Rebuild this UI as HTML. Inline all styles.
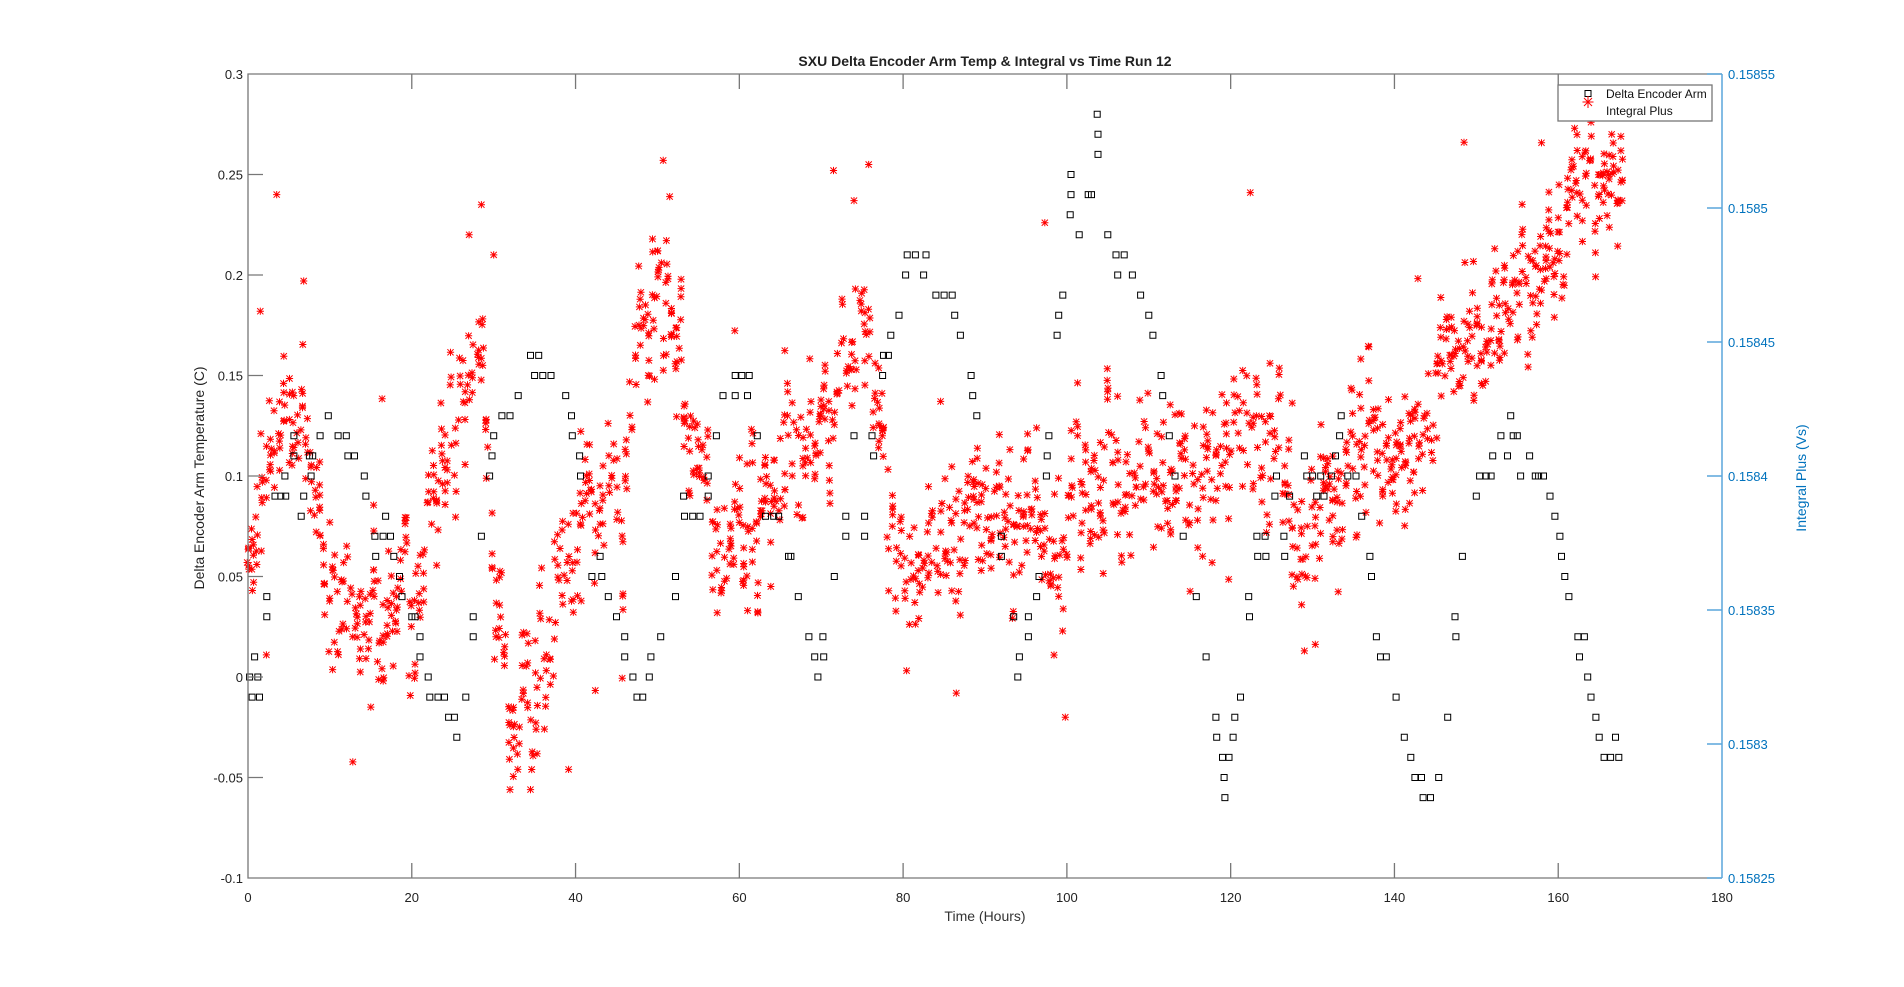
<!DOCTYPE html>
<html><head><meta charset="utf-8"><style>
html,body{margin:0;padding:0;background:#fff;}
svg{display:block;font-family:"Liberation Sans",Arial,sans-serif;}
</style></head><body>
<svg id="s" width="1904" height="987" viewBox="0 0 1904 987" xmlns="http://www.w3.org/2000/svg">
<rect width="1904" height="987" fill="#fff"/>
<g id="data"></g>
<g id="axes"></g>
<text x="985" y="66" text-anchor="middle" font-size="14" font-weight="bold" fill="#222">SXU Delta Encoder Arm Temp &amp; Integral vs Time Run 12</text>
<text x="985" y="921" text-anchor="middle" font-size="14" fill="#333">Time (Hours)</text>
<text transform="translate(204,478) rotate(-90)" text-anchor="middle" font-size="14" fill="#222">Delta Encoder Arm Temperature (C)</text>
<text transform="translate(1806,478) rotate(-90)" text-anchor="middle" font-size="14" fill="#0072BD">Integral Plus (Vs)</text>
<rect x="1558" y="85" width="154" height="36" fill="#fff" stroke="#777" stroke-width="1.3"/>
<rect x="1585" y="90.5" width="6" height="6" fill="none" stroke="#000" stroke-width="1"/>
<path d="M1588 97v12M1582.5 103h11M1584 99l8 8M1592 99l-8 8" stroke="#f00" stroke-width="1" transform="translate(0,-1)"/>
<text x="1606" y="98" font-size="12" fill="#111">Delta Encoder Arm</text>
<text x="1606" y="115" font-size="12" fill="#111">Integral Plus</text>
</svg>
<script>
var L=248,R=1722,T=74,B=878;
function X(t){return L+(R-L)*t/180;}
function Y(v){return B-(B-T)*(v+0.1)/0.4;}
var ns="http://www.w3.org/2000/svg";
var ax=document.getElementById('axes'),dg=document.getElementById('data');
function el(n,a,p,txt){var e=document.createElementNS(ns,n);for(var k in a)e.setAttribute(k,a[k]);if(txt!=null)e.textContent=txt;(p||ax).appendChild(e);return e;}
var d='';
for(var i=0;i<=9;i++){var x=X(i*20);if(i>0&&i<9){d+='M'+x+' '+B+'v-15M'+x+' '+T+'v15';}
el('text',{x:x,y:902,'text-anchor':'middle','font-size':'13',fill:'#222'},null,''+i*20);}
var lv=['-0.1','-0.05','0','0.05','0.1','0.15','0.2','0.25','0.3'];
for(var i=0;i<9;i++){var y=Y(-0.1+i*0.05);if(i>0&&i<8)d+='M'+L+' '+y+'h15';
el('text',{x:L-5,y:y+5,'text-anchor':'end','font-size':'13',fill:'#222'},null,lv[i]);}
el('path',{d:'M'+R+' '+T+'H'+L+'V'+B+'H'+R+d,fill:'none',stroke:'#777','stroke-width':'1.3'});
var rv=['0.15825','0.1583','0.15835','0.1584','0.15845','0.1585','0.15855'];
var bd='M'+R+' '+T+'V'+B;
for(var i=0;i<7;i++){var y=B-(B-T)*i/6;bd+='M'+R+' '+y+'h-15';
el('text',{x:R+6,y:y+5,'font-size':'13',fill:'#0072BD'},null,rv[i]);}
el('path',{d:bd,fill:'none',stroke:'#5aa6dc','stroke-width':'1.5'});
var sq=[[0.2,0],[0.5,-0.01],[0.8,0.01],[1.2,0],[1.4,-0.01],[2.3,0.04],[2.3,0.03],[3.3,0.09],[4,0.09],[4.5,0.1],[4.6,0.09],[5.6,0.12],[5.6,0.11],[6.5,0.08],[6.8,0.09],[7.5,0.11],[7.7,0.1],[7.9,0.11],[8.8,0.12],[9.8,0.13],[11,0.12],[12,0.12],[12.2,0.11],[13,0.11],[14.2,0.1],[14.4,0.09],[15.5,0.07],[15.6,0.06],[16.5,0.07],[16.8,0.08],[17.4,0.07],[17.8,0.06],[18.5,0.05],[18.8,0.04],[20,0.03],[20.4,0.03],[21,0.02],[21,0.01],[22,0],[22.2,-0.01],[23.2,-0.01],[24,-0.01],[24.5,-0.02],[25.2,-0.02],[25.5,-0.03],[26.6,-0.01],[27.5,0.03],[27.5,0.02],[28.5,0.07],[29.5,0.1],[29.8,0.11],[30,0.12],[31,0.13],[32,0.13],[33,0.14],[34.5,0.16],[35.5,0.16],[35,0.15],[36,0.15],[37,0.15],[38.8,0.14],[39.5,0.13],[39.6,0.12],[40.5,0.11],[40.6,0.1],[42,0.05],[43,0.06],[43.2,0.05],[44,0.04],[45,0.03],[46,0.02],[46,0.01],[47,0],[47.5,-0.01],[48.2,-0.01],[49,0],[49.2,0.01],[50.4,0.02],[52.2,0.05],[52.2,0.04],[53.2,0.09],[53.3,0.08],[54.3,0.08],[55.2,0.08],[57.2,0.12],[56.2,0.1],[56.2,0.09],[58,0.14],[59.5,0.15],[60.3,0.15],[61.2,0.15],[59.5,0.14],[61,0.14],[62.2,0.12],[63.2,0.08],[64.2,0.08],[64.8,0.08],[66,0.06],[66.3,0.06],[67.2,0.04],[68.5,0.02],[69.2,0.01],[69.6,0],[70.2,0.02],[70.3,0.01],[71.6,0.05],[73,0.08],[73,0.07],[74,0.12],[75.3,0.08],[75.3,0.07],[76.2,0.12],[76.4,0.11],[77.5,0.15],[77.6,0.16],[78.5,0.17],[78.2,0.16],[79.5,0.18],[80.3,0.2],[80.5,0.21],[81.5,0.21],[82.5,0.2],[82.8,0.21],[84,0.19],[85,0.19],[86,0.19],[86.3,0.18],[87,0.17],[88.3,0.15],[88.5,0.14],[89,0.13],[92,0.07],[92,0.06],[93.5,0.03],[94.2,0.01],[94,0],[95.3,0.03],[95.3,0.02],[96.3,0.04],[96.6,0.05],[97.5,0.1],[97.6,0.11],[97.8,0.12],[98.8,0.17],[99,0.18],[99.5,0.19],[100.4,0.23],[100.5,0.24],[100.5,0.25],[101.5,0.22],[102.6,0.24],[103,0.24],[103.7,0.28],[103.8,0.27],[103.8,0.26],[105,0.22],[106,0.21],[106.2,0.2],[107,0.21],[108,0.2],[109,0.19],[110,0.18],[110.5,0.17],[111.5,0.15],[111.7,0.14],[112.5,0.12],[113.2,0.1],[114.2,0.07],[115.8,0.04],[117,0.01],[118.2,-0.02],[118.3,-0.03],[119,-0.04],[119.2,-0.05],[119.3,-0.06],[120.3,-0.03],[119.8,-0.04],[120.5,-0.02],[121.2,-0.01],[122.2,0.04],[122.3,0.03],[123.2,0.07],[123.3,0.06],[124.2,0.07],[124.3,0.06],[125.4,0.09],[125.6,0.1],[126.5,0.07],[126.6,0.06],[127.2,0.09],[129,0.11],[129.3,0.1],[130.5,0.09],[130,0.1],[131,0.1],[131.4,0.09],[132.3,0.1],[132.8,0.11],[133.3,0.12],[133.5,0.13],[134.3,0.1],[135.3,0.1],[136,0.08],[137,0.06],[137.2,0.05],[137.8,0.02],[138.3,0.01],[139,0.01],[140.2,-0.01],[141.2,-0.03],[142,-0.04],[142.5,-0.05],[143.3,-0.05],[143.5,-0.06],[144.4,-0.06],[145.4,-0.05],[146.5,-0.02],[147.4,0.03],[147.5,0.02],[148.3,0.06],[150,0.09],[150.4,0.1],[151.2,0.1],[151.8,0.1],[152,0.11],[153,0.12],[153.8,0.11],[154.2,0.13],[154.5,0.12],[155,0.12],[155.4,0.1],[156.5,0.11],[157.2,0.1],[157.6,0.1],[158.2,0.1],[159,0.09],[159.6,0.08],[160.2,0.07],[160.4,0.06],[160.8,0.05],[161.3,0.04],[162.4,0.02],[162.6,0.01],[163.2,0.02],[163.6,0],[164,-0.01],[164.6,-0.02],[165,-0.03],[165.6,-0.04],[166.4,-0.04],[167,-0.03],[167.4,-0.04]];
var sd='';
sq.forEach(function(p){var x=X(p[0]),y=Y(p[1]);sd+='M'+(x-3).toFixed(1)+' '+(y-3).toFixed(1)+'h6v6h-6z';});
var tr=[[0,0.07],[2,0.1],[5,0.13],[7,0.13],[8,0.08],[10,0.04],[14,0.03],[18,0.03],[22,0.04],[23,0.11],[26,0.14],[29,0.14],[30,0.05],[32,-0.01],[35,-0.03],[36,0.02],[39,0.06],[41,0.09],[46,0.09],[47,0.16],[50,0.18],[52,0.17],[54,0.12],[56,0.1],[57,0.06],[59,0.06],[61,0.09],[66,0.1],[69,0.12],[73,0.15],[76,0.17],[77,0.12],[79,0.07],[81,0.03],[83,0.06],[88,0.07],[91,0.09],[94,0.08],[96,0.1],[98,0.06],[100,0.05],[101,0.1],[110,0.1],[116,0.09],[118,0.1],[121,0.12],[126,0.11],[128,0.06],[130,0.06],[133,0.09],[136,0.11],[140,0.11],[143,0.12],[146,0.16],[150,0.17],[155,0.19],[158,0.2],[161,0.23],[165,0.25],[168,0.26]];
function trend(t){for(var i=1;i<tr.length;i++)if(t<=tr[i][0]){var a=tr[i-1],b=tr[i];return a[1]+(b[1]-a[1])*(t-a[0])/(b[0]-a[0]);}return tr[tr.length-1][1];}
var seed=12345;function rnd(){seed=(seed*1103515245+12345)&0x7fffffff;return seed/0x7fffffff;}
function gauss(){return Math.sqrt(-2*Math.log(rnd()+1e-9))*Math.cos(2*Math.PI*rnd());}
var st='';
function star(x,y){var r=3.6,a=3.1;st+='M'+x.toFixed(1)+' '+(y-r).toFixed(1)+'v'+(2*r)+'M'+(x-r).toFixed(1)+' '+y.toFixed(1)+'h'+(2*r)+'M'+(x-a).toFixed(1)+' '+(y-a).toFixed(1)+'l'+(2*a)+' '+(2*a)+'M'+(x+a).toFixed(1)+' '+(y-a).toFixed(1)+'l'+(-2*a)+' '+(2*a);}
for(var t=0;t<=168;t+=0.55){var c=trend(t);var n=4+Math.floor(rnd()*4);var cc=c+gauss()*0.012;
for(var k=0;k<n;k++){var v=cc+gauss()*0.015;if(rnd()<0.02)v+=gauss()*0.05;star(X(t+(rnd()-0.5)*0.3),Y(v));}}
var outl=[[3.5,0.24],[6.8,0.197],[1.5,0.182],[27,0.22],[28.5,0.235],[30,0.21],[50.7,0.257],[51.5,0.239],[71.5,0.252],[74,0.237],[75.8,0.255],[97.3,0.226],[99.8,-0.02],[86.5,-0.008],[122.4,0.241],[148.5,0.266],[15,-0.015],[32,-0.056],[34.5,-0.056],[162,0.273],[164,0.276],[129,0.013]];
outl.forEach(function(p){star(X(p[0]),Y(p[1]));});
el('path',{d:st,fill:'none',stroke:'#f00','stroke-width':'1'},dg);
el('path',{d:sd,fill:'none',stroke:'#000','stroke-width':'1'},dg);
</script>
</body></html>
